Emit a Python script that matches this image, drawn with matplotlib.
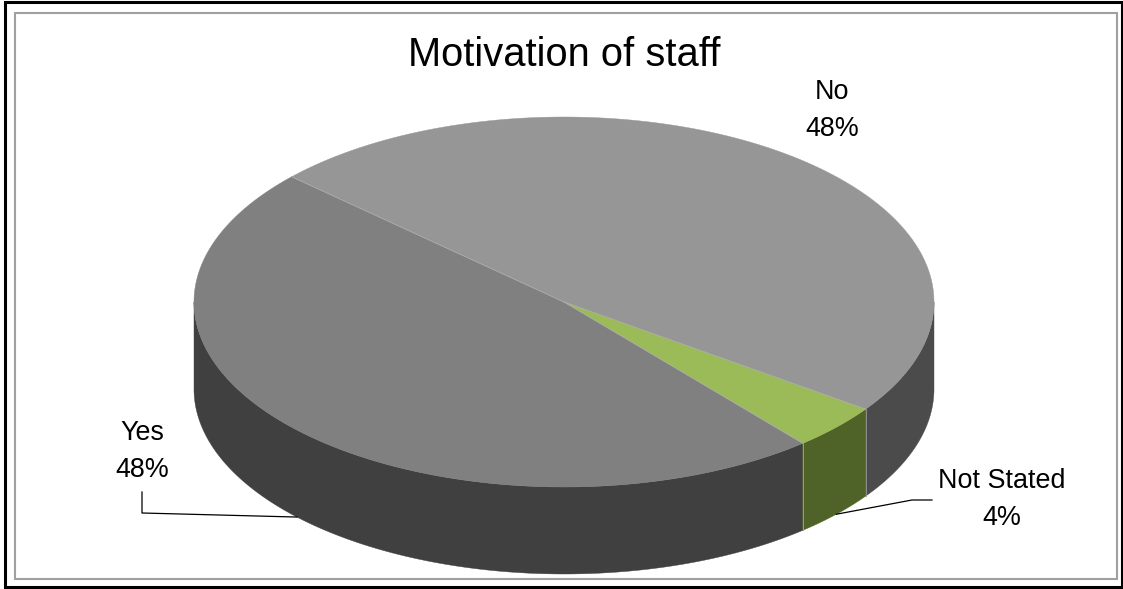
import numpy as np
import matplotlib
matplotlib.use("Agg")
import matplotlib.pyplot as plt
from matplotlib.patches import Polygon, Rectangle

plt.rcParams["font.family"] = ["Liberation Sans", "DejaVu Sans"]

# Survey result: is staff motivated?
categories = ["Yes", "No", "Not Stated"]
shares = [48, 48, 4]
top_colors = ["#808080", "#969696", "#9BBB59"]
side_colors = ["#404040", "#4B4B4B", "#4F6228"]
title = "Motivation of staff"

W, H = 1123, 589
fig = plt.figure(figsize=(W / 100, H / 100), dpi=100)
ax = fig.add_axes([0, 0, 1, 1])
ax.set_xlim(0, W)
ax.set_ylim(H, 0)
ax.axis("off")

# pie geometry (pixel layout): centre, radii of the top ellipse, thickness
cx, cy, rx, ry, depth = 564, 302, 370, 185, 87
start = -49.8  # first slice angle in degrees; slices run clockwise


def pt(t, dz=0.0):
    r = np.radians(t)
    return np.column_stack([cx + rx * np.cos(r), cy - ry * np.sin(r) + dz])


total = float(sum(shares))
bounds = [start]
for s in shares:
    bounds.append(bounds[-1] - 360.0 * s / total)
slices = [(bounds[i + 1], bounds[i]) for i in range(len(shares))]  # (lo, hi)

# outer side walls (only the front half of the cylinder is visible)
for (lo, hi), col in zip(slices, side_colors):
    for k in range(-2, 2):
        f0, f1 = -180 + 360 * k, 360 * k
        a0, a1 = max(lo, f0), min(hi, f1)
        if a1 > a0:
            ts = np.linspace(a0, a1, 200)
            poly = np.vstack([pt(ts), pt(ts[::-1], depth)])
            ax.add_patch(Polygon(poly, closed=True, fc=col, ec=col, lw=0.3))

# boundaries on the side wall
for b in bounds:
    if np.sin(np.radians(b)) < 0:
        p0 = pt([b])[0]
        p1 = pt([b], depth)[0]
        ax.plot([p0[0], p1[0]], [p0[1], p1[1]], color="#9a9a9a", lw=0.6)

# top faces
for (lo, hi), col in zip(slices, top_colors):
    ts = np.linspace(lo, hi, 300)
    poly = np.vstack([[cx, cy], pt(ts)])
    ax.add_patch(Polygon(poly, closed=True, fc=col, ec=col, lw=0.3))

for b in bounds[:-1]:
    p = pt([b])[0]
    ax.plot([cx, p[0]], [cy, p[1]], color="#ababab", lw=0.6)

# labels: name and percentage, with leader lines where needed
label_pos = {"Yes": (142, 440), "No": (832, 99), "Not Stated": (1002, 488)}
leader_start = {"Yes": [(142, 492), (142, 513)],
                "Not Stated": [(932, 500), (912, 500)]}
fs = 19.4
for name, s, (lo, hi) in zip(categories, shares, slices):
    x, y = label_pos[name]
    pct = f"{round(100 * s / total):.0f}%"
    ax.text(x, y, name, ha="center", va="baseline", fontsize=fs, color="black")
    ax.text(x, y + 37, pct, ha="center", va="baseline", fontsize=fs, color="black")
    if name in leader_start:
        mid = 0.5 * (lo + hi)
        anchor = pt([mid], depth)[0]
        pts = leader_start[name] + [tuple(anchor)]
        ax.plot([p[0] for p in pts], [p[1] for p in pts], color="black", lw=0.9)

ax.text(564, 66, title, ha="center", va="baseline", fontsize=28.7, color="black")

# chart frames
ax.add_patch(Rectangle((15, 13), 1102, 566, fill=False, ec="#a0a0a0", lw=1.5))
ax.add_patch(Rectangle((4.5, 2), 1117, 585, fill=False, ec="black", lw=2.2))

fig.savefig("out.png", dpi=100)
